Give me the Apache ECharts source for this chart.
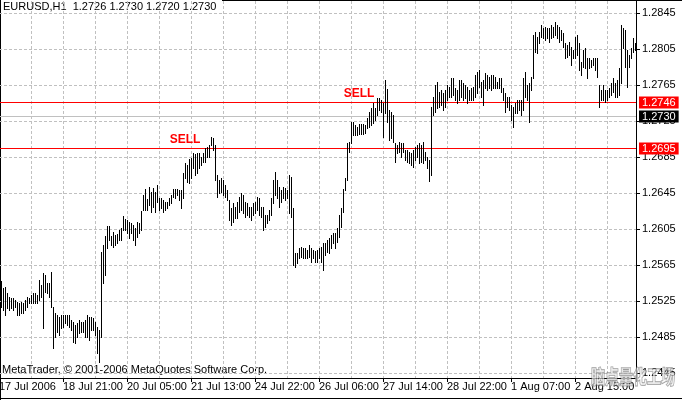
<!DOCTYPE html>
<html><head><meta charset="utf-8">
<script src="https://cdn.jsdelivr.net/npm/echarts@6/dist/echarts.min.js"></script>
<style>html,body{margin:0;padding:0;background:#fff}#c{width:682px;height:400px}</style>
</head><body><div id="c"></div>
<script>
// ---- data ----
const header = 'EURUSD,H1  1.2726 1.2730 1.2720 1.2730';
const copyright = 'MetaTrader, \u00a9 2001-2006 MetaQuotes Software Corp.';
const xLabels = ['17 Jul 2006','18 Jul 21:00','20 Jul 05:00','21 Jul 13:00','24 Jul 22:00','26 Jul 06:00','27 Jul 14:00','28 Jul 22:00','1 Aug 07:00','2 Aug 15:00'];
const yTicks = [1.2445,1.2485,1.2525,1.2565,1.2605,1.2645,1.2685,1.2725,1.2765,1.2805,1.2845];
const high = [
1.2547,1.2539,1.2541,1.2534,1.2529,1.2528,1.2528,1.2526,1.2524,1.2523,
1.2524,1.2523,1.2526,1.2529,1.2528,1.2532,1.2534,1.2534,1.2532,1.2548,
1.2543,1.2556,1.2554,1.2545,1.2545,1.2557,1.2518,1.2512,1.2509,1.2507,
1.2509,1.2509,1.2509,1.2509,1.2509,1.2504,1.2502,1.2498,1.2501,1.2504,
1.2502,1.2502,1.2504,1.2509,1.2507,1.2507,1.2506,1.2502,1.2496,1.2493,
1.2579,1.2587,1.2597,1.2608,1.2608,1.2597,1.2602,1.2598,1.2599,1.2604,
1.2606,1.2619,1.2616,1.2615,1.2613,1.2612,1.2609,1.2606,1.2613,1.2612,
1.2625,1.2643,1.2649,1.2638,1.2652,1.2646,1.2651,1.2646,1.2654,1.2639,
1.2639,1.2637,1.2635,1.2635,1.2639,1.2643,1.2649,1.2649,1.2649,1.2648,
1.2648,1.2667,1.2678,1.2676,1.2683,1.2684,1.2689,1.2688,1.2689,1.2689,
1.2685,1.2689,1.2695,1.2696,1.2698,1.2707,1.2706,1.2698,1.2665,1.2659,
1.2662,1.2659,1.2654,1.2648,1.2637,1.2628,1.2634,1.2629,1.2635,1.2640,
1.2645,1.2643,1.2635,1.2634,1.2629,1.2629,1.2634,1.2635,1.2640,1.2639,
1.2629,1.2629,1.2621,1.2621,1.2626,1.2639,1.2659,1.2668,1.2659,1.2652,
1.2648,1.2652,1.2651,1.2648,1.2665,1.2663,1.2628,1.2578,1.2578,1.2584,
1.2585,1.2584,1.2584,1.2582,1.2587,1.2584,1.2582,1.2581,1.2582,1.2584,
1.2585,1.2589,1.2589,1.2593,1.2595,1.2598,1.2601,1.2601,1.2606,1.2621,
1.2628,1.2649,1.2662,1.2701,1.2702,1.2724,1.2724,1.2721,1.2718,1.2722,
1.2722,1.2722,1.2721,1.2728,1.2735,1.2739,1.2745,1.2739,1.2751,1.2751,
1.2748,1.2745,1.2771,1.2761,1.2737,1.2735,1.2732,1.2701,1.2698,1.2702,
1.2701,1.2701,1.2693,1.2693,1.2691,1.2689,1.2693,1.2696,1.2698,1.2701,
1.2698,1.2702,1.2691,1.2685,1.2682,1.2741,1.2752,1.2765,1.2768,1.2757,
1.2759,1.2756,1.2759,1.2765,1.2763,1.2773,1.2773,1.2762,1.2759,1.2771,
1.2771,1.2767,1.2765,1.2763,1.2759,1.2762,1.2763,1.2776,1.2779,1.2782,
1.2768,1.2771,1.2778,1.2776,1.2774,1.2776,1.2776,1.2774,1.2768,1.2773,
1.2773,1.2762,1.2756,1.2752,1.2752,1.2743,1.2741,1.2745,1.2748,1.2748,
1.2748,1.2773,1.2779,1.2765,1.2767,1.2774,1.2821,1.2824,1.2818,1.2824,
1.2832,1.2828,1.2829,1.2828,1.2828,1.2832,1.2829,1.2835,1.2832,1.2829,
1.2826,1.2823,1.2812,1.2809,1.2813,1.2807,1.2804,1.2818,1.2821,1.2812,
1.2791,1.2804,1.2806,1.2795,1.2795,1.2793,1.2795,1.2795,1.2795,1.2765,
1.2759,1.2765,1.2759,1.2759,1.2762,1.2767,1.2773,1.2767,1.2771,1.2784,
1.2832,1.2828,1.2826,1.2804,1.2798,1.2806,1.2817,1.2812
];
const low = [
1.2518,1.2515,1.2509,1.2517,1.2515,1.2517,1.2515,1.2518,1.2509,1.2509,
1.2512,1.2512,1.2515,1.2518,1.2523,1.2523,1.2523,1.2523,1.2523,1.2526,
1.2529,1.2495,1.2535,1.2534,1.2529,1.2518,1.2473,1.2485,1.2491,1.2487,
1.2495,1.2496,1.2501,1.2498,1.2496,1.2493,1.2479,1.2478,1.2485,1.2489,
1.2491,1.2491,1.2485,1.2485,1.2482,1.2493,1.2493,1.2487,1.2467,1.2457,
1.2485,1.2545,1.2554,1.2584,1.2593,1.2587,1.2585,1.2587,1.2589,1.2593,
1.2593,1.2604,1.2604,1.2601,1.2595,1.2601,1.2593,1.2587,1.2596,1.2601,
1.2604,1.2626,1.2626,1.2626,1.2632,1.2624,1.2629,1.2624,1.2635,1.2626,
1.2628,1.2624,1.2626,1.2628,1.2632,1.2634,1.2640,1.2639,1.2643,1.2637,
1.2628,1.2639,1.2662,1.2657,1.2656,1.2662,1.2673,1.2665,1.2667,1.2673,
1.2676,1.2679,1.2679,1.2685,1.2685,1.2698,1.2693,1.2659,1.2640,1.2645,
1.2646,1.2643,1.2640,1.2637,1.2615,1.2609,1.2613,1.2617,1.2617,1.2624,
1.2626,1.2623,1.2618,1.2621,1.2618,1.2615,1.2621,1.2623,1.2626,1.2621,
1.2618,1.2604,1.2607,1.2612,1.2615,1.2621,1.2634,1.2643,1.2639,1.2629,
1.2635,1.2639,1.2637,1.2639,1.2623,1.2618,1.2565,1.2563,1.2567,1.2573,
1.2574,1.2573,1.2573,1.2573,1.2574,1.2568,1.2573,1.2568,1.2568,1.2573,
1.2568,1.2559,1.2576,1.2579,1.2578,1.2584,1.2589,1.2584,1.2591,1.2596,
1.2607,1.2624,1.2648,1.2659,1.2691,1.2701,1.2709,1.2709,1.2709,1.2710,
1.2710,1.2710,1.2712,1.2717,1.2718,1.2721,1.2723,1.2726,1.2732,1.2737,
1.2735,1.2707,1.2734,1.2724,1.2704,1.2706,1.2702,1.2679,1.2689,1.2691,
1.2685,1.2691,1.2682,1.2679,1.2678,1.2676,1.2674,1.2682,1.2685,1.2678,
1.2679,1.2678,1.2682,1.2673,1.2658,1.2665,1.2732,1.2735,1.2739,1.2741,
1.2743,1.2737,1.2741,1.2748,1.2752,1.2752,1.2754,1.2748,1.2745,1.2748,
1.2752,1.2748,1.2751,1.2745,1.2748,1.2748,1.2748,1.2752,1.2756,1.2763,
1.2752,1.2743,1.2762,1.2759,1.2762,1.2759,1.2762,1.2762,1.2762,1.2762,
1.2757,1.2748,1.2735,1.2741,1.2737,1.2726,1.2718,1.2734,1.2734,1.2737,
1.2732,1.2737,1.2752,1.2748,1.2724,1.2759,1.2773,1.2802,1.2801,1.2812,
1.2818,1.2817,1.2815,1.2817,1.2813,1.2817,1.2818,1.2821,1.2817,1.2813,
1.2815,1.2807,1.2795,1.2796,1.2798,1.2787,1.2795,1.2795,1.2798,1.2782,
1.2776,1.2785,1.2784,1.2773,1.2784,1.2785,1.2787,1.2782,1.2774,1.2741,
1.2748,1.2748,1.2746,1.2748,1.2752,1.2754,1.2757,1.2752,1.2752,1.2754,
1.2767,1.2806,1.2785,1.2763,1.2785,1.2795,1.2802,1.2804
];
const sellLevels = [1.2746, 1.2695];
const currentPrice = 1.2730;
const sellMarks = [[93, 1.2704], [180, 1.2755]];
const sellText = 'SELL';
const watermark = '脑点量化工场';

// ---- chart ----
const F = "'Liberation Sans Narrow','Liberation Sans',Arial,sans-serif";
const chart = echarts.init(document.getElementById('c'), null, {renderer: 'canvas', width: 682, height: 400});
const bars = high.map((h, i) => [i + 1, h, low[i]]);
const levelData = sellLevels.map(v => [v, 0]).concat([[currentPrice, 1]]);

function renderBar(params, api) {
  const n = api.value(0);
  const a = api.coord([n, api.value(1)]);
  const b = api.coord([n, api.value(2)]);
  const x = Math.floor(a[0] + 0.01) + 0.5;
  return {type: 'line', shape: {x1: x, y1: Math.round(a[1]), x2: x, y2: Math.round(b[1]) + 1},
          style: {stroke: '#000', lineWidth: 1}};
}
function renderLevel(params, api) {
  const v = api.value(0), kind = api.value(1);
  const cs = params.coordSys;
  const row = Math.round(api.coord([0, v])[1]);
  const right = cs.x + cs.width;
  const lineColor = kind === 0 ? '#ff0000' : '#c0c0c0';
  const boxColor = kind === 0 ? '#ff0000' : '#000000';
  return {type: 'group', children: [
    {type: 'line', shape: {x1: cs.x, y1: row + 0.5, x2: right, y2: row + 0.5}, style: {stroke: lineColor, lineWidth: 1}},
    {type: 'text', x: right + 3, y: row + 0.5, z2: 10,
     style: {text: v.toFixed(4), fill: '#fff', backgroundColor: boxColor, padding: [1, 3, 0, 3],
             font: '11px ' + F, verticalAlign: 'middle', align: 'left', lineHeight: 11}}
  ]};
}
function renderSell(params, api) {
  const p = api.coord([api.value(0), api.value(1)]);
  return {type: 'text', x: p[0], y: p[1],
          style: {text: sellText, fill: '#ff0000', font: "bold 12px 'Liberation Sans',Arial,sans-serif",
                  align: 'center', verticalAlign: 'middle'}};
}

chart.setOption({
  animation: false,
  backgroundColor: '#fff',
  grid: {left: -1, top: 1, width: 637, height: 377, containLabel: false, outerBoundsMode: 'none'},
  xAxis: [
    {type: 'value', position: 'top', min: 0, max: 318.5, interval: 16,
     axisLine: {show: false}, axisTick: {show: false}, axisLabel: {show: false},
     splitLine: {show: true, lineStyle: {color: '#c0c0c0', width: 1, type: [3, 2]}}},
    {type: 'value', position: 'bottom', min: 0, max: 318.5, interval: 32,
     axisLine: {show: true, onZero: false, lineStyle: {color: '#000', width: 1}},
     axisTick: {show: true, length: 4, lineStyle: {color: '#000'}},
     axisLabel: {show: true, align: 'left', margin: 3, color: '#000', fontSize: 11, fontFamily: F,
       formatter: v => { const k = v / 32; return (Number.isInteger(k) && xLabels[k]) ? xLabels[k] : ''; }},
     splitLine: {show: false}}
  ],
  yAxis: [
    {type: 'value', position: 'right', min: 1.2439444, max: 1.2858333, scale: true,
     axisLine: {show: true, onZero: false, lineStyle: {color: '#000', width: 1}},
     axisTick: {show: true, length: 4, customValues: yTicks, lineStyle: {color: '#000'}},
     axisLabel: {show: true, customValues: yTicks, margin: 6, color: '#000', fontSize: 11, fontFamily: F,
       formatter: v => v.toFixed(4)},
     splitLine: {show: true, lineStyle: {color: '#c0c0c0', width: 1, type: [3, 2]}}}
  ],
  series: [
    {type: 'custom', name: 'levels', xAxisIndex: 1, yAxisIndex: 0, clip: false, z: 3,
     data: levelData, encode: {y: 0}, renderItem: renderLevel, silent: true},
    {type: 'custom', name: 'EURUSD', xAxisIndex: 1, yAxisIndex: 0, z: 4,
     data: bars, encode: {x: 0, y: [1, 2]}, renderItem: renderBar, silent: true},
    {type: 'custom', name: 'sell', xAxisIndex: 1, yAxisIndex: 0, z: 5, clip: false, silent: true,
     data: sellMarks, encode: {x: 0, y: 1}, renderItem: renderSell}
  ],
  graphic: [
    {type: 'line', silent: true, shape: {x1: 0.5, y1: 0, x2: 0.5, y2: 400}, style: {stroke: '#000', lineWidth: 1}},
    {type: 'line', silent: true, shape: {x1: 222, y1: 0.5, x2: 682, y2: 0.5}, style: {stroke: '#000', lineWidth: 1}},
    {type: 'line', silent: true, shape: {x1: 0, y1: 398.5, x2: 682, y2: 398.5}, style: {stroke: '#000', lineWidth: 1}},
    {type: 'text', silent: true, left: 3, top: 1, style: {text: header, font: '11px ' + F, fill: '#000'}},
    {type: 'text', silent: true, left: 2, top: 364, style: {text: copyright, font: '11px ' + F, fill: '#000'}},
    {type: 'text', silent: true, x: 591, y: 367, scaleY: 1.35, z: 100,
     style: {text: watermark, font: 'bold 14px "Noto Sans CJK SC"', fill: 'rgba(255,255,255,0.55)',
             stroke: 'rgba(90,90,90,0.6)', lineWidth: 1, verticalAlign: 'top', align: 'left'}}
  ]
});
</script></body></html>
